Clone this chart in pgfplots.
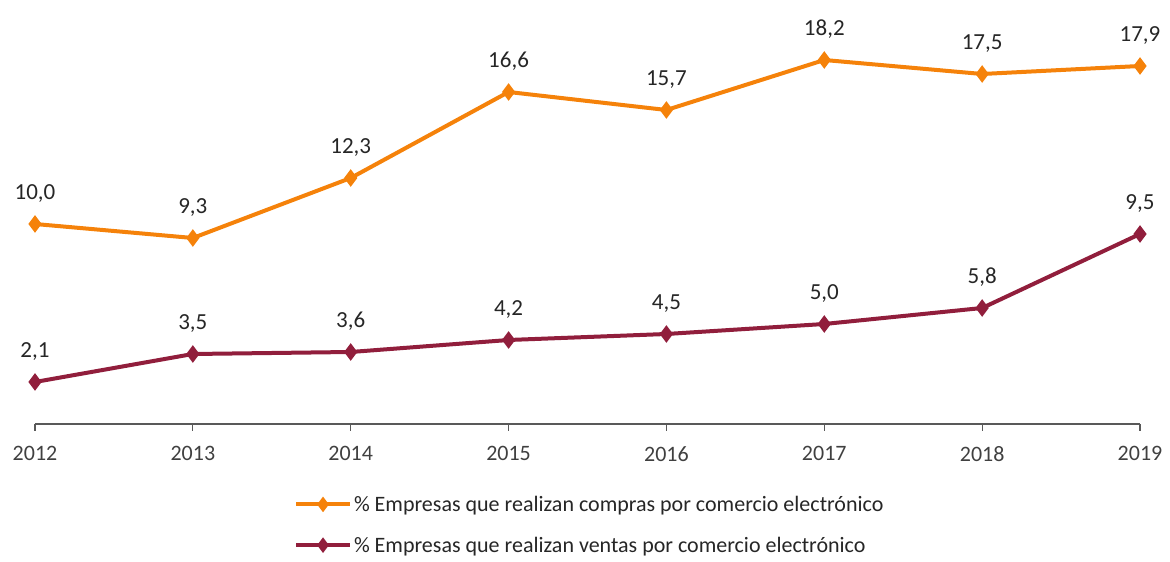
\documentclass[border=0pt]{standalone}
\usepackage{pgfplots}
\pgfplotsset{compat=1.18}
\usepackage{fontspec}
\setmainfont{Carlito}
\definecolor{orangeline}{RGB}{245,130,10}
\definecolor{wine}{RGB}{145,30,60}
\definecolor{axisgray}{RGB}{89,89,89}
\definecolor{textgray}{RGB}{64,64,64}
\begin{document}
\begin{tikzpicture}
\begin{axis}[
  name=ax,
  scale only axis, width=1105bp, height=424bp,
  xmin=2012, xmax=2019, ymin=0, ymax=21.2,
  clip=false,
  axis x line*=bottom, axis y line=none,
  x axis line style={axisgray, line width=1.5bp, -},
  xtick={2012,2013,2014,2015,2016,2017,2018,2019},
  xticklabels={2012,2013,2014,2015,2016,2017,2018,2019},
  major tick length=7bp, tick align=outside,
  tick style={axisgray, line width=1.2bp},
  xticklabel style={font=\fontsize{22bp}{26bp}\selectfont, text=textgray, yshift=-12bp},
  /pgf/number format/assume math mode=true,
  nodes near coords={\pgfmathprintnumber[fixed,fixed zerofill,precision=1,use comma]{\pgfplotspointmeta}},
  point meta=y,
  nodes near coords style={font=\fontsize{23bp}{27bp}\selectfont, text=black!85, anchor=base, yshift=24bp},
  legend style={at={(0.502,-0.16)}, anchor=north, draw=none, fill=none,
    font=\fontsize{22bp}{26bp}\selectfont, text=black!85, row sep=20bp},
  legend cell align=left,
  legend image code/.code={\draw[mark repeat=2,mark phase=2,#1,mark size=4.5bp] plot coordinates {(0bp,0bp) (27bp,0bp) (54bp,0bp)};},
]
\addplot[orangeline, line width=4bp, mark=diamond*, mark size=5.5bp, mark options={solid}] coordinates {
(2012,10.0) (2013,9.3) (2014,12.3) (2015,16.6) (2016,15.7) (2017,18.2) (2018,17.5) (2019,17.9)};
\addlegendentry{\% Empresas que realizan compras por comercio electrónico}
\addplot[wine, line width=4bp, mark=diamond*, mark size=5.5bp, mark options={solid}] coordinates {
(2012,2.1) (2013,3.5) (2014,3.6) (2015,4.2) (2016,4.5) (2017,5.0) (2018,5.8) (2019,9.5)};
\addlegendentry{\% Empresas que realizan ventas por comercio electrónico}
\end{axis}
\pgfresetboundingbox
\path[use as bounding box] ([shift={(-35bp,-138bp)}]ax.south west) rectangle ([shift={(30bp,0bp)}]ax.north east);
\end{tikzpicture}
\end{document}
